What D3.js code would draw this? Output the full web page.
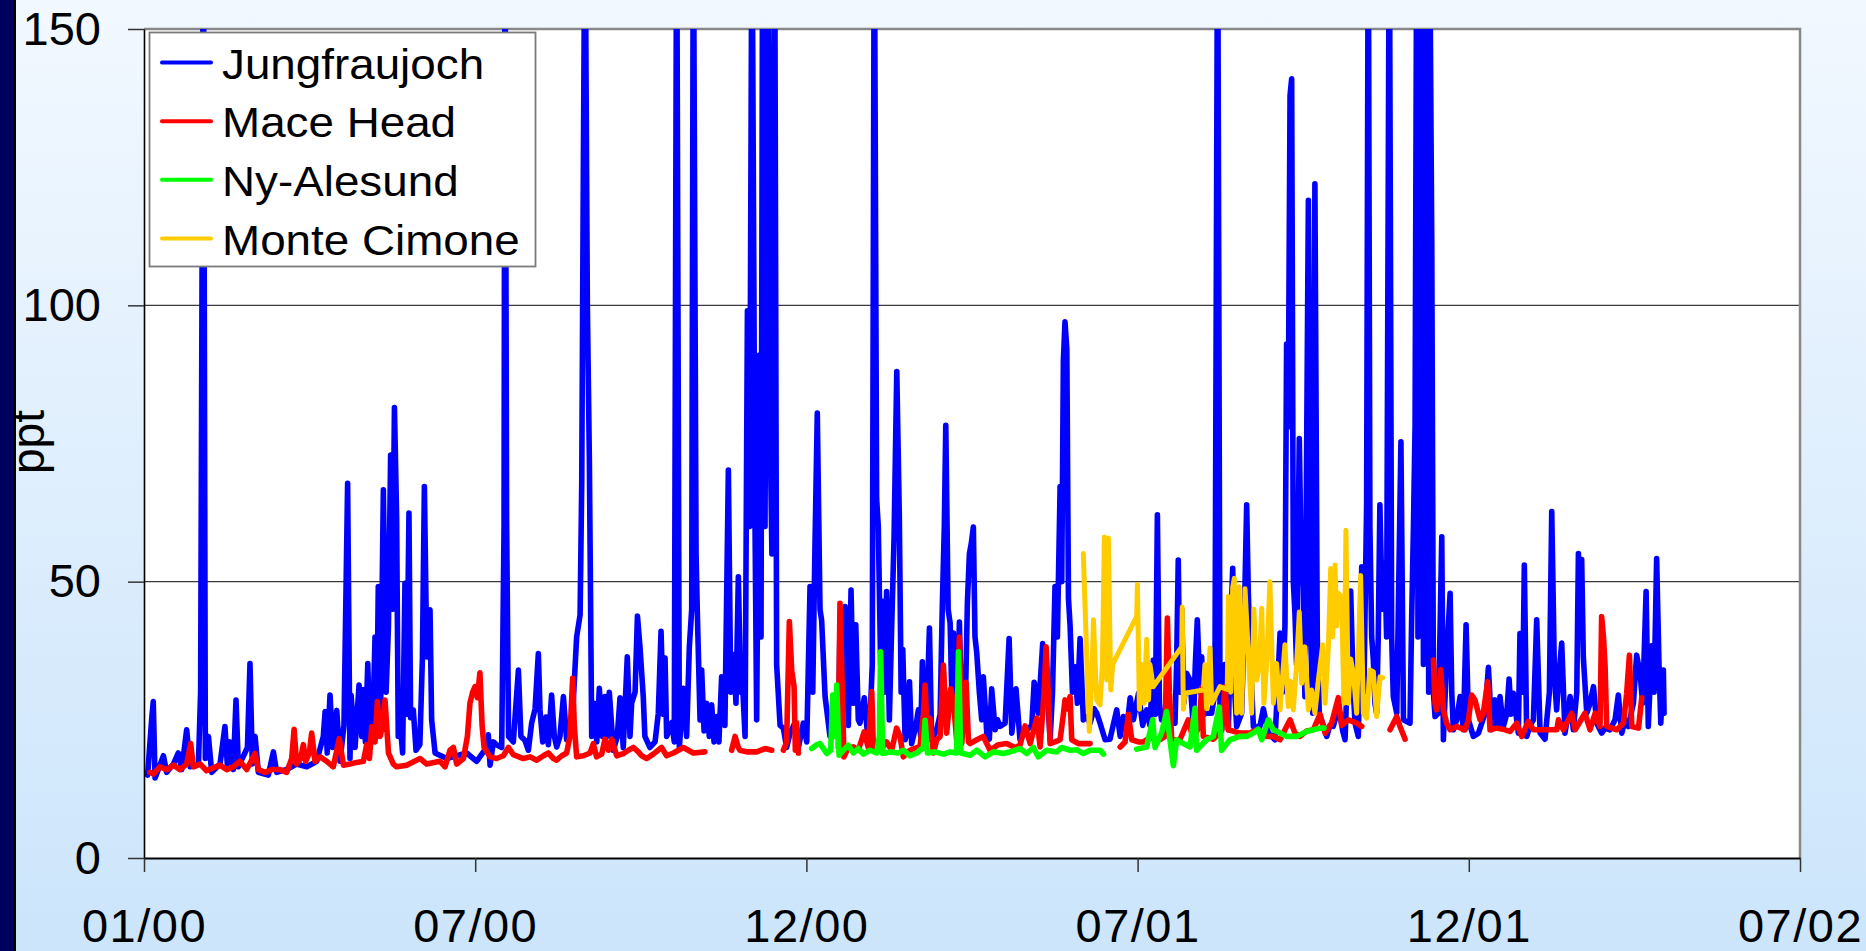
<!DOCTYPE html>
<html>
<head>
<meta charset="utf-8">
<script src="https://cdn.jsdelivr.net/npm/d3@7"></script>
<style>
  html, body { margin: 0; padding: 0; overflow: hidden; }
  body { width: 1866px; height: 951px; }
  text { font-family: "Liberation Sans", Arial, sans-serif; fill: #000; }
</style>
</head>
<body>
<script>
(function(){

    //series are [days since 01/01/2000, ppt]; null marks a gap in the record
    var jungfraujoch = [
        [2,15],[4.2,25],[5.1,28.3],[6.1,14.5],[7.9,16],[10.7,18.5],[12.5,15.5],[16.2,17],[18.9,19],[20.8,16],
        [23.5,23.2],[25.4,16.5],[30,17],[31.2,30],[32.7,175],[33.8,18],[35.5,22],[37.3,15.5],[41.9,17],[44.6,23.8],
        [45.9,17],[47.4,21],[49.2,16],[50.7,28.6],[52,16.5],[57,20],[58.4,35.2],[59.7,17],[61.2,22],[63,15.5],
        [68.5,15],[71.3,19.2],[73.1,15.5],[78.6,16],[84.1,17],[89.7,16.5],[95.2,17.5],[98.8,22],[99.8,26.5],[101,19],
        [102.5,29.5],[104,20],[106.2,26.7],[108,17.5],[110.2,24],[112.2,67.8],[113.5,18],[114.1,29.5],[116.3,20],[118.5,31.3],
        [120,22],[120.9,30.5],[122,21],[123.3,35.2],[124.6,20],[126.4,28],[127.3,40],[128.2,24],[129.1,49.1],[130.4,27],
        [131.9,66.6],[133.4,30],[134.7,42],[135.9,72.9],[136.9,45],[138,81.5],[139.2,61.8],[140.1,22],[141,25],[142.5,19],
        [143.8,49.7],[144.7,26],[146,62.4],[146.9,25.4],[148.4,26.8],[149.9,19.5],[152,20.5],[153.4,36],[154.5,67.2],[155.8,36.4],
        [157.6,44.9],[158.5,25],[160.4,19],[166.8,18],[172.3,18.5],[177.8,19],[183.3,17.5],[188.8,20],[189.7,22.3],[190.7,16.8],
        [192.5,21],[194.3,20.5],[197.1,20],[198.4,60],[198.9,175],[199.8,61],[200.9,22],[203.5,21],[206.3,34],[207.7,22],
        [209.9,21.3],[211.8,19.5],[213.6,24.4],[215.5,27],[217.3,37],[218.2,26.8],[219.7,21],[221.5,25.5],[222.8,20.5],[224.6,29.5],
        [226.1,22],[227.4,20.1],[229.2,22],[231.1,29.2],[232.9,21.4],[235.7,23],[238.4,40],[240.3,44],[241.2,67.8],[242.1,125],
        [243,175],[244.3,100],[245.4,72.3],[246.7,22],[248,28],[249.5,21],[250.9,30.7],[252.6,22],[254,29.2],[255.3,22],
        [256.4,30],[258.6,19.5],[260.8,22],[262.3,29],[264.1,20],[266.3,36.4],[267.8,22],[268.7,28],[270.6,30],[271.9,43.8],
        [273.3,38.2],[275.1,29.2],[276,22],[278.8,20],[281.6,21],[283.4,26.2],[284.9,41],[286.2,26],[287.1,36.2],[288,22],
        [290.8,24.5],[292.2,21],[293.5,175],[295,20],[297.2,30.7],[299,22],[300.5,38.2],[301.8,45],[302.7,175],[304.2,55],
        [304.9,44.3],[306.4,25],[307.3,34],[308.6,23],[310,28],[311.5,22],[312.8,27.7],[314.1,21],[315.6,25.6],[316.8,21],
        [318.3,32.8],[320.1,24],[322,70.2],[323.3,30],[325.1,36.8],[326.2,28],[327.5,50.9],[328.8,30],[329.9,31],[331.2,22],
        [332.5,99],[333.7,60],[335,175],[336.7,60],[337.6,25],[339.1,91],[340,40],[340.9,175],[342.2,60],[343.7,175],
        [344.9,80.5],[346,55],[347.5,175],[348.6,35],[350.5,24],[352.3,23.5],[354.1,20],[356,22.6],[358.7,24.5],[360.6,20],
        [363.3,24.4],[365.2,21],[367,49.1],[368.5,30],[369.7,56],[371,80.5],[372.5,45],[373.4,43],[375.3,29.2],[378,22],
        [380.8,26.2],[382.6,22],[383.5,41.9],[385,30],[386.3,45.5],[388.1,24],[389.6,48.5],[390.9,28],[392.2,42.2],[393.6,25],
        [394.5,24.4],[396.9,29],[398.8,22],[400,24.4],[401.3,35],[402.4,175],[403.7,65],[404.6,60],[405.9,35],[406.5,46.5],
        [408,30],[409.2,48.2],[410.7,25],[412,41.9],[413.3,58],[414.8,88],[416.2,61.8],[417.2,30],[418.1,37.7],[419.4,21.4],
        [420.7,23],[421.8,31.9],[423,20.7],[425.4,24],[426.7,26.8],[428,22],[428.9,35.5],[430.4,21.4],[431.7,30],[432.8,41.6],
        [434,21.4],[436.8,23.2],[438.7,26],[439.9,45.8],[441,60],[441.8,78.3],[443.1,45],[444.2,42.5],[445.1,30],[446,40.7],
        [447.8,23.2],[449.3,42.7],[450.2,30],[451.1,34.6],[452.4,25],[453.7,46.1],[454.8,55],[455.9,57],[457,59.9],[457.9,40],
        [458.9,37],[460.3,30],[461.6,25],[462.5,32.8],[464.4,22.6],[465.8,21.5],[467.1,30.6],[469,23.2],[470.3,25],[471.7,23.8],
        [474.5,24.4],[476.7,39.7],[478.2,22.6],[480.5,30.6],[482.7,21.4],[486.4,23.2],[489.2,24],[490.5,31.8],[491.6,30.5],[492.8,26.2],
        [495.2,38.8],[496.5,32],[497.4,32.2],[499.3,21.4],[500.6,30],[502,49.1],[503.3,40],[504.8,67.2],[505.7,50],[506.6,90],
        [507.5,97],[508.5,92],[509.4,47],[510.3,42],[511.6,30],[513.1,34.6],[514.3,28],[515.8,39.7],[517.6,25],[519.5,25.5],
        [521.3,24.4],[523.5,27],[525,26.2],[526.8,24.4],[529.6,21.4],[532.3,21.5],[536,26.8],[537.9,22],[539.7,25.6],[541.5,23],
        [543.4,29],[545.2,25],[548,29.8],[550.3,24],[552.5,26.8],[554.3,24],[556.2,35.8],[557.3,26],[558.4,62.1],[559.5,28],
        [560.7,25],[562.6,26.2],[565.3,25],[568.1,24.4],[569,35],[569.9,53.9],[570.8,30],[571.8,45],[573,28],[574.5,33.4],
        [576.4,32.2],[578.2,23.8],[579.3,35],[580.4,43.1],[581.9,30],[582.8,36.4],[584.1,26],[585.5,26.2],[588.3,26.2],[590.1,30],
        [591.6,175],[592.9,28],[593.8,23.2],[595.6,35],[597.5,23.2],[598.8,42],[599.9,52.4],[601,30],[602.1,23.8],[604.8,26.2],
        [606.1,40],[607.6,63.9],[608.5,48],[609.4,38.2],[611.3,23.8],[614.9,23.8],[616.8,27],[619.5,22.6],[623.2,21.4],[624.5,30],
        [626,40.7],[627.4,30],[628.7,42],[629.6,93],[630.5,78],[631.5,138],[632.4,141],[633.3,50],[634.2,44.3],[635.1,35],
        [636.6,75.9],[637.7,52],[638.8,49.1],[639.7,29.2],[641.6,119],[642.9,40],[644,26.2],[645.2,122],[646.5,40],[647.6,26.2],
        [649.8,24],[651.7,22],[653.5,24],[655.3,23.8],[657.2,26],[659,26.2],[660.5,23],[661.8,21.4],[663.6,38],[664.9,48.3],
        [666.4,30],[667.3,24.4],[669.1,22],[670.4,40],[671,52.7],[672.2,30],[673.7,64],[674.6,175],[675.5,60],[676.5,40],
        [677.4,35.8],[678.3,28],[679.2,26.2],[680.1,40],[681,63.9],[682.3,45],[683.8,53.3],[684.7,40],[686.2,175],[687.5,40],
        [688.4,29.2],[690.3,26.2],[692.6,75.3],[694,25],[697.6,24.4],[698.5,43],[699.5,60],[700.4,78.3],[701.3,170],[702,40],
        [702.8,165],[703.5,55],[704.2,143],[705,35],[705.7,160],[706.4,60],[707.2,170],[707.9,30],[708.6,160],[709.6,111],
        [710.5,30],[711.4,25.6],[713.2,26.2],[714.2,41.9],[715.1,58.1],[716,21.4],[717.8,36.4],[719.7,47.9],[720.6,30],[721.5,23.2],
        [723.3,25],[725.2,29.2],[727,23.2],[728.5,42.2],[729.8,25],[732.5,22],[735.3,22.6],[739,26.2],[740.8,34.5],[742.6,23.2],
        [744.5,28.6],[745.8,24],[747.2,29.2],[749,23.8],[750.9,26],[752.2,32.4],[753.3,26],[754.6,29.8],[757.3,22.6],[758.2,40.6],
        [759.7,30],[760.6,53],[761.9,22],[763.8,24],[765.6,25],[767.4,43.1],[769.3,22.6],[772,21.5],[774.4,30],[775.7,62.7],
        [776.6,45],[777.2,32.8],[778.4,26.8],[779.9,34],[781.2,38.9],[783,22.6],[784.9,26.5],[785.8,29.2],[787.6,23.2],[789.5,30],
        [790.4,55.1],[791.3,40],[792.2,54],[793.1,36.4],[795,26.2],[796.8,28],[798.7,31],[800.5,24.4],[803.2,22.6],[805.1,23.5],
        [807.8,23.2],[810.6,25],[812.4,29.5],[814.3,22.6],[816.1,25],[817.9,23.8],[820.7,28],[822.5,36.7],[824.4,33.4],[825.8,28],
        [827.7,48.2],[828.9,23.8],[830.8,38.4],[832.1,30],[833.5,54.2],[834.8,35],[835.8,24.4],[837.2,34],[837.6,26.2]
    ];

    var maceHead = [
        [3.3,15.5],[5.1,15.2],[8.8,16.5],[12.5,16],[16.2,16.8],[19.8,16],[23.5,17],[25.7,20.7],[27.2,16.5],[30.9,17],
        [34.5,15.8],[38.2,16.3],[41.9,16.8],[45.6,16],[49.2,16.5],[52.9,17.5],[56.6,16],[61.2,18.9],[63,16],[66.7,15.5],
        [70.4,16],[75,16],[78.6,15.5],[81.4,18],[82.7,23.3],[84.1,17],[86.3,18],[87.8,20.5],[89.1,17.5],[91.1,19],
        [92.4,22.6],[94.2,17.5],[97,18.3],[100.7,17.5],[104.3,16.5],[107.6,21.6],[109.9,16.8],[113.5,17],[117.2,17.3],[120.9,17.5],
        [122.7,20.5],[124.2,18],[125.5,23.8],[127.3,21],[128.6,28.3],[130.1,22],[131.5,24],[132.8,28.6],[134.7,19],[137.4,17],
        [139.2,16.5],[144.7,16.8],[152.1,18],[155.8,17],[163.1,17.5],[165.9,16.5],[168.6,19.5],[170.5,20],[172.3,17],[176,18],
        [178.2,22],[179.6,28],[181.1,30],[182.4,31],[183.7,29],[185.1,33.5],[186.3,24],[187.4,20],[190.7,18.3],[194.3,18],
        [198,18.5],[200.8,20],[203.5,18.7],[209,18],[212.7,18.3],[216.4,17.7],[220.1,18.5],[222.8,19],[225.6,18],[227.4,17.7],
        [230.2,18.5],[232.9,19],[234.7,22],[236.2,32.5],[237.1,24],[238.4,18.3],[242.1,18.5],[245.8,19],[247.6,20.7],[249.4,18.3],
        [252.2,18.8],[254,21.5],[255.9,19.5],[257.7,21.5],[260.5,18.5],[264.1,18.9],[266.9,19.5],[269.7,20],[272.4,19.2],[274.2,18.5],
        [277,18],[280.6,18.8],[285.2,20],[288,18.5],[291.7,19],[297.2,20],[302.7,19],[309.1,19.2],[311,null],
        [323.8,19.5],[325.7,22],[327.5,20],[328.4,19.5],[332.1,19.2],[337.6,19.2],[342.2,19.8],[345.9,19.5],[347,null],
        [352.3,19.5],[354.1,21],[355.6,42.8],[356.9,33.9],[358.2,31],[358.9,19.5],[359.6,24.5],[360.6,19],[362,null],
        [382.6,20],[383.5,46.1],[384.4,35],[385.7,18.3],[388.1,20],[390.9,20.1],[393.6,19.5],[396.8,22.8],[399.1,20],[401,30.1],
        [401.9,20.1],[405.6,19.5],[409.2,21],[412,19.5],[414.7,23.5],[416.6,22],[418.4,18.3],[422.1,19.5],[425.8,20],[427.6,20.1],
        [429.5,26],[430.4,31.3],[431.7,21.4],[433.1,25.3],[435,19],[436.8,21.4],[438.7,22],[440.5,34.9],[442.3,22.6],[444.5,30.6],
        [446,28.3],[447.8,21.4],[449.3,40],[450.6,20.7],[453,31.8],[454.3,21],[455.2,20.7],[458.9,21.4],[462.5,22],[466.2,19.5],
        [470.8,20.5],[475.4,20.7],[480,20],[482.7,20.4],[485.5,23.9],[488.3,20.7],[491.9,25.3],[493.8,20.1],[496,30],[497.1,38.2],
        [498.4,29],[499.3,20.7],[502,21],[504.8,21.4],[506.6,26],[507.5,28.6],[508.8,27],[510.3,29.2],[511.2,21.4],[514.9,20.7],
        [517.6,20.7],[521.3,20.7],[525,null],
        [537.9,20.1],[540.6,21],[542.4,26],[544.3,21.4],[547.9,21],[550.7,21],[554.4,21.8],[559.8,21.4],[562.6,22],[563.9,43.4],
        [565,30],[566.3,21.4],[570.8,21.4],[575.4,25],[578.2,21.4],[581.5,24],[582.8,30.8],[583.7,22],[589.2,21.5],[593.8,23],
        [595.6,31],[597.5,23.2],[603.9,22.6],[609.4,22.6],[613.1,23.2],[618.6,22],[622.3,22],[626,21.4],[629.6,23.8],[631.5,25],
        [634.2,22.6],[637,22],[640.7,23],[644.3,23.2],[648,26],[650.8,22.6],[654.4,24.4],[658.1,29],[659.9,24],[663.6,25],
        [668.2,24.4],[671,23.8],[675,null],
        [686.6,23.2],[690.3,25.6],[692.1,23.8],[694.9,21.5],[700,null],
        [710.5,35.8],[711.4,28],[712.3,26.8],[714.5,34.1],[716,26.8],[717.8,24.4],[719.7,23.2],[723.3,23.8],[727.9,23.2],[729.8,25],
        [731.6,29.5],[733.4,28.6],[736.2,25],[738,26.2],[740.4,31.9],[741.7,23.2],[745.4,23.5],[750,23.2],[752.7,22.9],[756.4,24.4],
        [759.2,22],[762.8,24.7],[765.6,23.2],[771.1,23.2],[778.5,23.2],[779.4,25],[782.1,23.2],[786.7,26.2],[788.6,23.2],[794,26.2],
        [796.8,23.2],[799.6,26.2],[802.3,23.8],[803.2,43.7],[804.2,40],[805.1,34.6],[806,23.8],[811.5,23.2],[815.2,24.4],[817,29.8],
        [818.5,36.7],[819.8,23.8],[823.5,23.5],[825.3,29]
    ];

    var nyAlesund = [
        [367.9,19.8],[370.7,20.5],[372.5,20.7],[376.2,18.9],[378.4,19.5],[379.5,29.5],[380.8,22],[381.7,31.3],[383,18.6],[385.4,19.5],
        [388.1,20.4],[390.9,19],[393.6,19.8],[396.4,18.8],[400,19.5],[403.7,19],[405.2,22],[405.9,37.3],[407,18.9],[411.1,19.2],
        [415.7,19],[418.4,19.5],[422.1,18.5],[425.8,19],[429.5,20],[430.4,24.9],[431.7,19],[435.9,19.2],[440.5,18.8],[444.2,19.2],
        [447.8,19],[448.8,37.3],[450,19],[455.2,18.6],[458.9,19.5],[463.5,18.3],[468,19.2],[473.6,18.9],[478.1,19.3],[482.7,19.8],
        [486.4,18.9],[490.1,20],[492.8,18.3],[497.4,19.5],[502.9,19.2],[505.7,20],[510.3,19.5],[514,19.6],[517.6,18.9],[521.3,19.5],
        [526.8,19.5],[528.7,18.8],[532,null],
        [547,19.7],[552.5,20.1],[555.8,25],[557.1,20],[560.7,22.6],[563.5,26.5],[565.3,21.4],[567.2,16.7],[569,21.4],[572.7,20.7],
        [576.4,20.1],[579.1,27.1],[580,19.5],[585.5,21.4],[589.2,22],[592.5,27.3],[593.8,19.5],[598.4,21.4],[603.9,22],[607.6,22],
        [611.3,22.6],[614,23.3],[615.9,21.4],[619.5,25],[622.3,23.2],[626,22.6],[629.6,22],[635.1,22],[640.7,22.9],[644.3,23.2],
        [648,23.5],[650.2,23.5]
    ];

    var monteCimone = [
        [517.6,55.1],[518.6,45],[519.5,36.4],[520.9,22.9],[522.2,32],[523.2,43.1],[524.1,35],[525,28.6],[526.8,27.7],[528.1,35],
        [529.2,58.1],[530,40],[530.5,32.2],[531.4,57.9],[532.7,30.4],[533.8,35.1],[547,43.7],[547.4,49.5],[548.5,26.9],[549.8,35],
        [551.1,28],[552.5,39.6],[553.5,28.6],[554.3,35],[556.1,31],[571.8,38.2],[572.1,45.4],[572.7,26.9],[573.6,29.8],[583.7,30.4],
        [584.6,35],[585.5,27],[587.4,38],[588.3,28],[592.9,31],[596.9,30.5],[597.5,47.3],[598.8,30],[599.9,49],[600.8,50.6],
        [602.1,26.2],[603.4,49.1],[604.8,26.2],[606.7,48.7],[608.5,37],[610.3,26.2],[611.6,45],[613.1,32.2],[614.6,35],[615.9,45.2],
        [617.1,28],[618.6,35.2],[620.4,50],[622.3,28],[624.1,35.2],[626,26.8],[627.4,33],[628.7,38.6],[630.5,27.4],[631.8,32],
        [633.3,26.8],[635.1,35],[636.6,44.5],[637.9,31.6],[639.7,38.2],[641.6,26.8],[643.4,30.4],[645.2,26.2],[647.1,32.2],[649.5,38.6],
        [650.8,28],[652.6,38],[653.9,52.4],[655,40],[656.3,53],[657.2,42],[658.1,47.9],[659.9,47.3],[661.2,28],[662.3,59.3],
        [663.6,28],[664.9,36],[666.4,33.4],[668.2,26.2],[670.4,51.1],[671.9,26.2],[673.7,25.3],[675.5,34],[677.4,33.7],[679.2,25.6],
        [681.1,32.8],[682.5,32.6]
    ];

    var seriesNames = ["Jungfraujoch", "Mace Head", "Ny-Alesund", "Monte Cimone"];
    var seriesColors = ["#0000ff", "#ff0000", "#00ff00", "#ffcc00"];
    var seriesData = [jungfraujoch, maceHead, nyAlesund, monteCimone];

    var yTicks = [0, 50, 100, 150];
    var xTickDays = [0, 182.5, 365, 547.5, 730, 912.5];   //half-year steps from 01/01/2000
    var xTickLabels = ["01/00", "07/00", "12/00", "07/01", "12/01", "07/02"];

window.onload = drawChart();

function drawChart(){

    var width = 1866,
        height = 951;

    var plot = {left: 144, right: 1800, top: 29, bottom: 858};

    var svg = d3.select("body")
        .append("svg")
        .attr("width", width)
        .attr("height", height);

    var defs = svg.append("defs");

    //light blue slide background
    var grad = defs.append("linearGradient")
        .attr("id", "bg")
        .attr("x1", 0).attr("y1", 0)
        .attr("x2", 0).attr("y2", 1);
    grad.append("stop").attr("offset", "0%").attr("stop-color", "#f2f8ff");
    grad.append("stop").attr("offset", "100%").attr("stop-color", "#cce5fb");

    defs.append("clipPath")
        .attr("id", "plotClip")
        .append("rect")
        .attr("x", plot.left)
        .attr("y", plot.top)
        .attr("width", plot.right - plot.left)
        .attr("height", plot.bottom - plot.top);

    svg.append("rect")
        .attr("width", width)
        .attr("height", height)
        .attr("fill", "url(#bg)");

    //dark band on the left edge
    svg.append("rect")
        .attr("x", 0).attr("y", 0)
        .attr("width", 14).attr("height", height)
        .attr("fill", "#00005e");
    svg.append("rect")
        .attr("x", 13.5).attr("y", 0)
        .attr("width", 2.5).attr("height", height)
        .attr("fill", "#000");

    var x = d3.scaleLinear()
        .domain([xTickDays[0], xTickDays[xTickDays.length - 1]])
        .range([plot.left, plot.right]);

    var y = d3.scaleLinear()
        .domain([0, 150])
        .range([plot.bottom, plot.top]);

    //plot area
    svg.append("rect")
        .attr("x", plot.left)
        .attr("y", plot.top)
        .attr("width", plot.right - plot.left)
        .attr("height", plot.bottom - plot.top)
        .attr("fill", "#fff");

    //horizontal gridlines
    svg.selectAll(".grid")
        .data(yTicks.filter(function(d){ return d > 0 && d < 150; }))
        .enter()
        .append("line")
        .attr("class", "grid")
        .attr("x1", plot.left)
        .attr("x2", plot.right)
        .attr("y1", function(d){ return y(d); })
        .attr("y2", function(d){ return y(d); })
        .attr("stroke", "#3a3a3a")
        .attr("stroke-width", 1.3);

    //gray frame on top and right
    svg.append("path")
        .attr("d", "M" + plot.left + "," + plot.top + "H" + plot.right + "V" + plot.bottom)
        .attr("fill", "none")
        .attr("stroke", "#888")
        .attr("stroke-width", 2.5);

    //series lines, drawn in workbook order
    var line = d3.line()
        .defined(function(d){ return d[1] !== null; })
        .x(function(d){ return x(d[0]); })
        .y(function(d){ return y(d[1]); });

    var lines = svg.append("g").attr("clip-path", "url(#plotClip)");
    seriesData.forEach(function(data, i){
        lines.append("path")
            .datum(data)
            .attr("fill", "none")
            .attr("stroke", seriesColors[i])
            .attr("stroke-width", i == 3 ? 5 : 5.6)
            .attr("stroke-linejoin", "round")
            .attr("stroke-linecap", "round")
            .attr("d", line);
    });

    //y axis
    var yAxis = svg.append("g")
        .attr("transform", "translate(" + plot.left + ",0)")
        .call(d3.axisLeft(y).tickValues(yTicks).tickSize(16).tickPadding(27).tickSizeOuter(0));
    yAxis.select(".domain").attr("stroke", "#000").attr("stroke-width", 1.6);
    yAxis.selectAll(".tick line").attr("stroke", "#333").attr("stroke-width", 1.5);
    yAxis.selectAll(".tick text")
        .style("font-family", "'Liberation Sans', Arial, sans-serif")
        .style("font-size", "47px")
        .attr("fill", "#000");

    //x axis
    var xAxis = svg.append("g")
        .attr("transform", "translate(0," + plot.bottom + ")")
        .call(d3.axisBottom(x).tickValues(xTickDays).tickSize(14).tickPadding(37).tickSizeOuter(0)
            .tickFormat(function(d, i){ return xTickLabels[i]; }));
    xAxis.select(".domain").attr("stroke", "#000").attr("stroke-width", 2.2);
    xAxis.selectAll(".tick line").attr("stroke", "#333").attr("stroke-width", 1.5);
    xAxis.selectAll(".tick text")
        .style("font-family", "'Liberation Sans', Arial, sans-serif")
        .style("font-size", "47px")
        .style("letter-spacing", "1.5px")
        .attr("fill", "#000");

    //y axis title
    svg.append("text")
        .attr("transform", "translate(44,442) rotate(-90)")
        .attr("text-anchor", "middle")
        .style("font-size", "46px")
        .text("ppt");

    //legend
    var legend = svg.append("g");
    legend.append("rect")
        .attr("x", 149.5)
        .attr("y", 32.5)
        .attr("width", 386)
        .attr("height", 234)
        .attr("fill", "#fff")
        .attr("stroke", "#7a7a7a")
        .attr("stroke-width", 1.8);

    var rowY = d3.scaleLinear().domain([0, 3]).range([62.5, 238.5]);

    var items = legend.selectAll(".item")
        .data(seriesNames)
        .enter()
        .append("g")
        .attr("class", "item")
        .attr("transform", function(d, i){ return "translate(0," + rowY(i) + ")"; });

    items.append("line")
        .attr("x1", 162).attr("x2", 211)
        .attr("y1", 0).attr("y2", 0)
        .attr("stroke", function(d, i){ return seriesColors[i]; })
        .attr("stroke-width", 4)
        .attr("stroke-linecap", "round");

    items.append("text")
        .attr("transform", "translate(222,16) scale(1.09,1)")
        .style("font-size", "42px")
        .text(function(d){ return d; });
}

})();
</script>
</body>
</html>
